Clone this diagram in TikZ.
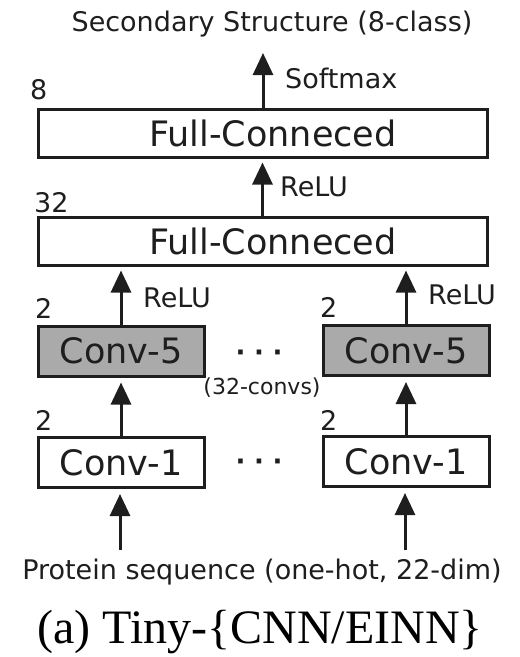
\documentclass[tikz,border=0pt]{standalone}
\usepackage{fontspec}
\usetikzlibrary{arrows.meta}
\newfontfamily\dvsans{DejaVu Sans}
\newfontfamily\dvbold{DejaVu Sans Bold}
\newfontfamily\capserif{Liberation Serif}
\definecolor{inkc}{HTML}{1E1E1E}
\definecolor{convgray}{HTML}{AAAAAA}
\begin{document}
\begin{tikzpicture}[x=1pt,y=-1pt,
  layer/.style={draw=inkc, line width=3pt, fill=white, inner sep=0pt,
    font=\dvsans\fontsize{35}{40}\selectfont, text=inkc},
  fcbox/.style={layer, minimum width=449pt, minimum height=48pt},
  convbox/.style={layer, minimum width=166pt, minimum height=50pt},
  shaded/.style={fill=convgray},
  lbl/.style={inner sep=0pt, anchor=west, text=inkc,
    font=\dvsans\fontsize{27}{32}\selectfont},
  note/.style={inner sep=0pt, text=inkc, font=\dvsans\fontsize{27}{32}\selectfont},
  ellip/.style={inner sep=0pt, text=inkc, font=\dvbold\fontsize{26}{30}\selectfont},
  arr/.style={draw=inkc, line width=3pt, -{Triangle[length=22pt,width=20pt]}},
]
\useasboundingbox (0,0) rectangle (520,657);

% output label
\node[note] (title) at (272,24) {Secondary Structure (8-class)};
\coordinate (outtip) at (263,53);

% fully connected layers
\node[fcbox] (fc1) at (262.5,133) {\hspace*{21pt}Full-Conneced};
\node[fcbox] (fc2) at (262.5,241) {\hspace*{21pt}Full-Conneced};

% convolution columns
\node[convbox, shaded] (c5a) at (121,351) {Conv-5};
\node[convbox, shaded] (c5b) at (406,350.5) {Conv-5};
\node[convbox] (c1a) at (121,462.5) {Conv-1};
\node[convbox] (c1b) at (406,461.5) {Conv-1};

% input label
\node[note] (input) at (262,572) {Protein sequence (one-hot, 22-dim)};
\coordinate (ina) at (120,550);
\coordinate (inb) at (405,550);

% size labels
\node[lbl] (s8) at (30,90) {8};
\node[lbl] (s32) at (34,203) {32};
\node[lbl] (s2a) at (35,308) {2};
\node[lbl] (s2b) at (320,307) {2};
\node[lbl] (s2c) at (35,420) {2};
\node[lbl] (s2d) at (320,420) {2};

% activation labels
\node[lbl] (act1) at (285,78) {Softmax};
\node[lbl] (act2) at (280,187) {ReLU};
\node[lbl] (act3) at (143,298) {ReLU};
\node[lbl] (act4) at (428,295) {ReLU};

% ellipses between columns
\node[ellip] (dots1) at (259,356) {·\,\,·\,\,·};
\node[ellip] (dots2) at (259,465) {·\,\,·\,\,·};
\node[note, font=\dvsans\fontsize{22}{26}\selectfont] (nconv) at (262,388) {(32-convs)};

% connections
\draw[arr] (fc1.north -| outtip) -- (outtip);
\draw[arr, shorten >=4pt] (fc2.north) -- (fc1.south);
\draw[arr, shorten >=4pt] (c5a.north) -- (c5a.north |- fc2.south);
\draw[arr, shorten >=4pt] (c5b.north) -- (c5b.north |- fc2.south);
\draw[arr, shorten >=5pt] (c1a.north) -- (c5a.south);
\draw[arr, shorten >=5pt] (c1b.north) -- (c5b.south);
\draw[arr, shorten >=5pt] (ina) -- (ina |- c1a.south);
\draw[arr, shorten >=5pt] (inb) -- (inb |- c1b.south);

% caption
\node[inner sep=0pt, font=\capserif\fontsize{48}{52}\selectfont] (cap) at (260,632) {(a) Tiny-\{CNN/EINN\}};
\end{tikzpicture}
\end{document}
